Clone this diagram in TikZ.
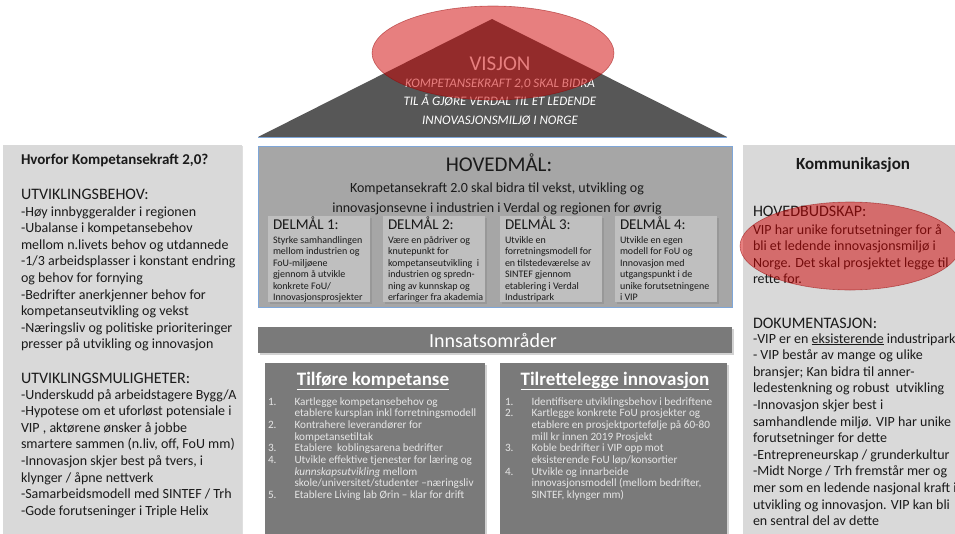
\documentclass[tikz,border=0pt]{standalone}
\usepackage{fontspec}
\setmainfont{Carlito}
\usetikzlibrary{shadows}

\definecolor{trigray}{HTML}{575757}
\definecolor{sidegray}{HTML}{D9D9D9}
\definecolor{goalgray}{HTML}{A6A6A6}
\definecolor{subgray}{HTML}{BFBFBF}
\definecolor{areagray}{HTML}{7A7A7A}
\definecolor{edgeblue}{HTML}{7EA6D8}
\definecolor{itemtext}{HTML}{E6E6E6}
\definecolor{marker}{HTML}{D00000}
\definecolor{ink}{HTML}{1A1A1A}

% stacked lines whose baseline is the baseline of the first line
\newcommand{\lrows}[1]{\begin{tabular}[t]{@{}l@{}}#1\end{tabular}}
\newcommand{\crows}[1]{\begin{tabular}[t]{@{}c@{}}#1\end{tabular}}
\newcommand{\numrows}[1]{\begin{tabular}[t]{@{}l@{\hspace{18pt}}l@{}}#1\end{tabular}}

\begin{document}
\begin{tikzpicture}[x=1pt,y=-1pt,
  txt/.style={anchor=base west,inner sep=0pt,outer sep=0pt,text=ink},
  ctxt/.style={anchor=base,inner sep=0pt,outer sep=0pt,text=ink},
  bodytext/.style={txt,font=\fontsize{14}{16.6}\selectfont},
  headtext/.style={txt,font=\fontsize{16}{19}\selectfont},
  goaltext/.style={txt,font=\fontsize{10}{11.5}\selectfont},
  goaltitle/.style={txt,font=\fontsize{15}{17}\selectfont},
  itemlist/.style={txt,text=itemtext,font=\fontsize{11.2}{11.7}\selectfont},
  areatitle/.style={ctxt,text=white,font=\bfseries\fontsize{19}{22}\selectfont},
  sidepanel/.style={fill=sidegray,drop shadow={shadow xshift=1pt,shadow yshift=-1pt,opacity=0.25}},
  subbox/.style={fill=subgray,drop shadow={shadow xshift=1.5pt,shadow yshift=-1.5pt,opacity=0.35}},
  areabox/.style={fill=areagray,drop shadow={shadow xshift=1.5pt,shadow yshift=-1.5pt,opacity=0.35}},
  hilite/.style={fill=marker,fill opacity=0.5,draw=marker!70!black,draw opacity=0.5,line width=0.6pt}
]
\clip (0,0) rectangle (955,533);
\fill[white] (0,0) rectangle (955,533);

% ---------- vision roof ----------
\fill[trigray] (258,137) -- (492,19) -- (727,137) -- cycle;
\draw[edgeblue,line width=1pt] (258,137) -- (727,137);
\node[ctxt,text=white,font=\fontsize{21}{24}\selectfont] (visjon) at (500,70) {VISJON};
\node[ctxt,text=white,font=\itshape\fontsize{13}{18.5}\selectfont] (vistext) at (500,87)
  {\crows{KOMPETANSEKRAFT 2,0 SKAL BIDRA\\TIL Å GJØRE VERDAL TIL ET LEDENDE\\INNOVASJONSMILJØ I NORGE}};
\path[hilite] (493,53) ellipse [x radius=121, y radius=47];

% ---------- left panel ----------
\path[sidepanel] (3,145) rectangle (242,545);
\node[txt,font=\bfseries\fontsize{15}{18}\selectfont] (whytitle) at (21,164) {Hvorfor Kompetansekraft 2,0?};
\node[headtext] (needhead) at (21,199) {UTVIKLINGSBEHOV:};
\node[bodytext] (needs) at (21,216) {\lrows{%
-Høy innbyggeralder i regionen\\
-Ubalanse i kompetansebehov\\
mellom n.livets behov og utdannede\\
-1/3 arbeidsplasser i konstant endring\\
og behov for fornying\\
-Bedrifter anerkjenner behov for\\
kompetanseutvikling og vekst\\
-Næringsliv og politiske prioriteringer\\
presser på utvikling og innovasjon}};
\node[headtext] (opphead) at (21,383) {UTVIKLINGSMULIGHETER:};
\node[bodytext] (opps) at (21,399) {\lrows{%
-Underskudd på arbeidstagere Bygg/A\\
-Hypotese om et uforløst potensiale i\\
VIP , aktørene ønsker å jobbe\\
smartere sammen (n.liv, off, FoU mm)\\
-Innovasjon skjer best på tvers, i\\
klynger / åpne nettverk\\
-Samarbeidsmodell med SINTEF / Trh\\
-Gode forutseninger i Triple Helix}};

% ---------- right panel ----------
\path[sidepanel] (743,145) rectangle (965,545);
\node[ctxt,font=\bfseries\fontsize{17}{20}\selectfont] (commtitle) at (853,169) {Kommunikasjon};
\node[headtext] (msghead) at (753,216) {HOVEDBUDSKAP:};
\node[bodytext] (msg) at (753,234) {\lrows{%
VIP har unike forutsetninger for å\\
bli et ledende innovasjonsmiljø i\\
Norge. Det skal prosjektet legge til\\
rette for.}};
\node[headtext] (dochead) at (753,328) {DOKUMENTASJON:};
\node[bodytext] (docs) at (753,343) {\lrows{%
-VIP er en \underline{eksisterende} industripark\\
- VIP består av mange og ulike\\
bransjer; Kan bidra til anner-\\
ledestenkning og robust\ \ utvikling\\
-Innovasjon skjer best i\\
samhandlende miljø. VIP har unike\\
forutsetninger for dette\\
-Entrepreneurskap / grunderkultur\\
-Midt Norge / Trh fremstår mer og\\
mer som en ledende nasjonal kraft i\\
utvikling og innovasjon. VIP kan bli\\
en sentral del av dette}};
\path[hilite] (850,246) ellipse [x radius=110, y radius=44];

% ---------- main goal ----------
\path[fill=goalgray,draw=edgeblue,line width=0.8pt] (258,146) rectangle (732,307);
\node[ctxt,font=\fontsize{21}{24}\selectfont] (goalhead) at (499,171) {HOVEDMÅL:};
\node[ctxt,font=\fontsize{14}{20}\selectfont] (goaltxt) at (497,192)
  {\crows{Kompetansekraft 2.0 skal bidra til vekst, utvikling og\\innovasjonsevne i industrien i Verdal og regionen for øvrig}};

% sub-goals
\path[subbox] (268,216) rectangle (370,302);
\path[subbox] (383,216) rectangle (485,302);
\path[subbox] (500,216) rectangle (602,302);
\path[subbox] (615,216) rectangle (717,302);

\node[goaltitle] (dm1) at (273,229) {DELMÅL 1:};
\node[goaltext] (dmt1) at (273,243) {\lrows{Styrke samhandlingen\\mellom industrien og\\FoU-miljøene\\gjennom å utvikle\\konkrete FoU/\\Innovasjonsprosjekter}};
\node[goaltitle] (dm2) at (388,229) {DELMÅL 2:};
\node[goaltext] (dmt2) at (388,243) {\lrows{Være en pådriver og\\knutepunkt for\\kompetanseutvikling\ \ i\\industrien og spredn-\\ning av kunnskap og\\erfaringer fra akademia}};
\node[goaltitle] (dm3) at (505,229) {DELMÅL 3:};
\node[goaltext] (dmt3) at (505,243) {\lrows{Utvikle en\\forretningsmodell for\\en tilstedeværelse av\\SINTEF gjennom\\etablering i Verdal\\Industripark}};
\node[goaltitle] (dm4) at (620,229) {DELMÅL 4:};
\node[goaltext] (dmt4) at (620,243) {\lrows{Utvikle en egen\\modell for FoU og\\Innovasjon med\\utgangspunkt i de\\unike forutsetningene\\i VIP}};

% ---------- focus areas ----------
\path[areabox] (258,327) rectangle (732,353);
\node[ctxt,text=white,font=\fontsize{20}{24}\selectfont] (innsats) at (493,347) {Innsatsområder};

\path[areabox] (265,363) rectangle (485,545);
\node[areatitle] (komp) at (373,385) {\underline{Tilføre kompetanse}};
\node[itemlist] (komplist) at (268,405) {\numrows{%
1. & Kartlegge kompetansebehov og\\
   & etablere kursplan inkl forretningsmodell\\
2. & Kontrahere leverandører for\\
   & kompetansetiltak\\
3. & Etablere\ \ koblingsarena bedrifter\\
4. & Utvikle effektive tjenester for læring og\\
   & \textit{kunnskapsutvikling} mellom\\
   & skole/universitet/studenter –næringsliv\\
5. & Etablere Living lab Ørin – klar for drift}};

\path[areabox] (500,363) rectangle (727,545);
\node[areatitle] (innov) at (615,385) {\underline{Tilrettelegge innovasjon}};
\node[itemlist] (innovlist) at (505,405) {\numrows{%
1. & Identifisere utviklingsbehov i bedriftene\\
2. & Kartlegge konkrete FoU prosjekter og\\
   & etablere en prosjektportefølje på 60-80\\
   & mill kr innen 2019 Prosjekt\\
3. & Koble bedrifter i VIP opp mot\\
   & eksisterende FoU løp/konsortier\\
4. & Utvikle og innarbeide\\
   & innovasjonsmodell (mellom bedrifter,\\
   & SINTEF, klynger mm)}};
\end{tikzpicture}
\end{document}
